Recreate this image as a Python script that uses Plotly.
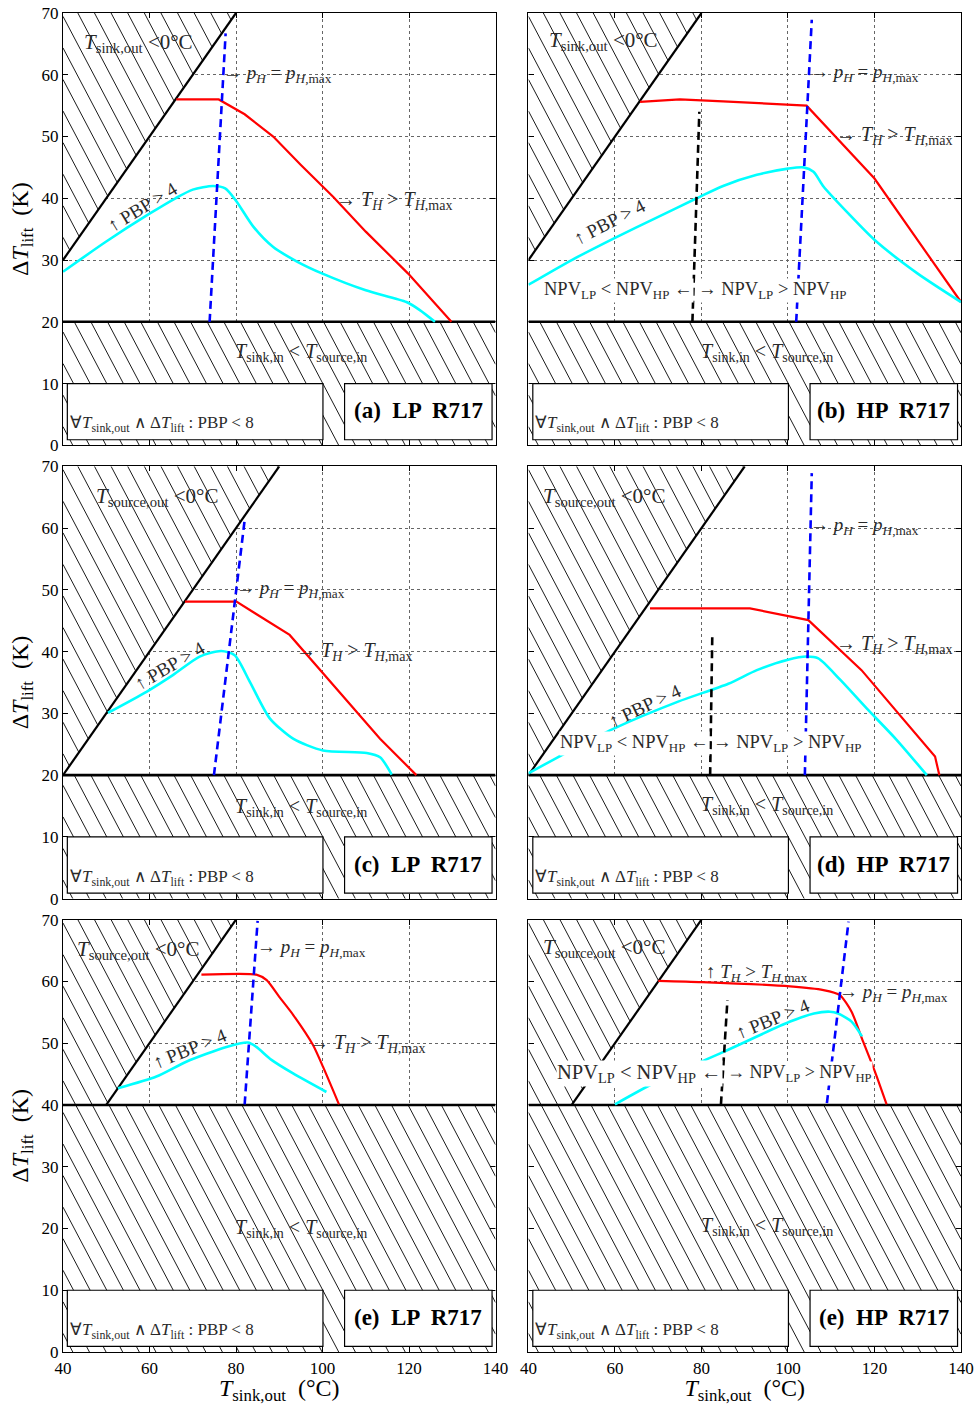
import math
import plotly.graph_objects as go
from plotly.subplots import make_subplots

# ---------------- data ----------------
# Panel (a) LP R717
A_RED_X = [66.2, 76.0, 82.0, 88.6, 95.0, 102.5, 110.0, 119.8, 129.8]
A_RED_Y = [56.0, 56.0, 53.6, 50.0, 45.4, 40.2, 34.6, 27.8, 20.0]
A_CYAN_X = [40, 50, 60, 66, 70, 74.7, 77.5, 80, 84, 88.6, 94, 100, 110, 119.4, 122.5, 126]
A_CYAN_Y = [28.1, 33.0, 37.5, 40.0, 41.4, 42.0, 41.6, 39.6, 35.4, 32.1, 29.8, 27.8, 25.1, 23.2, 21.9, 20.0]
A_BLUE_X = [73.9, 77.6]
A_BLUE_Y = [20.0, 66.7]
A_BOUND_X = [40, 80]
A_BOUND_Y = [30, 70]
A_FLOOR = 20

# Panel (b) HP R717
B_RED_X = [65.8, 75, 85, 95, 104.3, 120.0, 140]
B_RED_Y = [55.6, 56.0, 55.7, 55.3, 55.0, 43.2, 23.2]
B_CYAN_X = [40, 50, 60, 70, 78.9, 85, 92.8, 100, 103.6, 105.9, 108.2, 114, 120.1, 130, 140]
B_CYAN_Y = [26.0, 30.0, 33.6, 37.0, 40.0, 42.0, 43.8, 44.8, 45.0, 44.3, 41.9, 37.5, 33.2, 27.8, 23.2]
B_BLUE_X = [101.9, 105.5]
B_BLUE_Y = [20.0, 68.9]
B_BLACK_X = [77.9, 79.5]
B_BLACK_Y = [20.0, 54.0]
B_BOUND_X = [40, 80]
B_BOUND_Y = [30, 70]
B_FLOOR = 20

# Panel (c) LP R717
C_RED_X = [68.2, 80.1, 92.4, 100.9, 113.3, 121.7]
C_RED_Y = [48.1, 48.1, 42.7, 35.9, 25.9, 20.0]
C_CYAN_X = [50.4, 59.3, 65.4, 71.6, 76.6, 79.7, 83.2, 87.8, 93.2, 100.1, 110.2, 113.3, 116]
C_CYAN_Y = [30.1, 33.5, 36.2, 39.2, 40.1, 39.4, 35.1, 29.2, 25.9, 24.0, 23.6, 22.9, 20.1]
C_BLUE_X = [74.9, 82.0]
C_BLUE_Y = [20.0, 61.3]
C_BOUND_X = [40, 90]
C_BOUND_Y = [20, 70]
C_FLOOR = 20

# Panel (d) HP R717
D_RED_X = [68.1, 91.2, 104.7, 117.0, 134.0, 135.0]
D_RED_Y = [47.0, 47.0, 45.1, 37.0, 23.0, 20.0]
D_CYAN_X = [40, 50, 59.6, 74.6, 86.2, 92.8, 100, 104.3, 107, 112, 118.2, 125, 132.1]
D_CYAN_Y = [20.3, 24.1, 27.5, 31.9, 34.8, 37.0, 38.7, 39.2, 38.9, 35.5, 30.8, 25.8, 20.0]
D_BLUE_X = [103.9, 105.5]
D_BLUE_Y = [20.0, 68.9]
D_BLACK_X = [82.0, 82.5]
D_BLACK_Y = [20.0, 42.7]
D_BOUND_X = [40, 90]
D_BOUND_Y = [20, 70]
D_FLOOR = 20

# Panel (e) LP R717
E_RED_X = [72.0, 84.7, 87.1, 90.0, 93.2, 97.8, 100.1, 103.8]
E_RED_Y = [61.1, 61.1, 60.2, 57.5, 54.6, 49.7, 46.2, 40.1]
E_CYAN_X = [52.7, 61.6, 68.5, 77.8, 82.8, 84.7, 88.2, 93.2, 100.9]
E_CYAN_Y = [42.7, 44.6, 47.0, 49.4, 50.1, 49.4, 47.3, 45.1, 42.1]
E_BLUE_X = [82.0, 85.0]
E_BLUE_Y = [40.1, 69.8]
E_BOUND_X = [50, 80]
E_BOUND_Y = [40, 70]
E_FLOOR = 40

# Panel (e) HP R717
F_RED_X = [70.0, 80.1, 100.5, 108.2, 112.0, 114.7, 117.4, 120.1, 122.8]
F_RED_Y = [60.1, 59.9, 59.2, 58.6, 57.8, 55.1, 50.2, 45.4, 40.1]
F_CYAN_X = [60.0, 69.7, 85.1, 100.5, 106.0, 109.7, 111.6, 114.7, 117.1]
F_CYAN_Y = [40.1, 43.8, 48.6, 53.5, 54.8, 55.1, 54.8, 53.5, 51.1]
F_BLUE_X = [109.0, 114.0]
F_BLUE_Y = [40.3, 69.7]
F_BLACK_X = [84.5, 86.0]
F_BLACK_Y = [40.1, 57.0]
F_BOUND_X = [50, 80]
F_BOUND_Y = [40, 70]
F_FLOOR = 40

LABELS = ["(a)  LP  R717", "(b)  HP  R717", "(c)  LP  R717",
          "(d)  HP  R717", "(e)  LP  R717", "(e)  HP  R717"]

X_RANGE = [40, 140]
Y_RANGE = [0, 70]
X_TICKS = [40, 60, 80, 100, 120, 140]
Y_TICKS = [0, 10, 20, 30, 40, 50, 60, 70]

# ---------------- text ----------------
T_SINKOUT = "<i>T</i><sub>sink,out</sub> &lt;0°C"
T_SOURCEOUT = "<i>T</i><sub>source,out</sub> &lt;0°C"
PH = "→ <i>p<sub>H</sub></i> = <i>p</i><sub><i>H</i>,max</sub>"
TH = "→ <i>T<sub>H</sub></i> &gt; <i>T</i><sub><i>H</i>,max</sub>"
TH_UP = "↑ <i>T<sub>H</sub></i> &gt; <i>T</i><sub><i>H</i>,max</sub>"
PBP = "↑ PBP &gt; 4"
SINKIN = "<i>T</i><sub>sink,in</sub> &lt; <i>T</i><sub>source,in</sub>"
NPV_L = "NPV<sub>LP</sub> &lt; NPV<sub>HP</sub> ←"
NPV_R = "→ NPV<sub>LP</sub> &gt; NPV<sub>HP</sub>"
FORALL = "∀<i>T</i><sub>sink,out</sub> ∧ Δ<i>T</i><sub>lift</sub> : PBP &lt; 8"

FONT = "Liberation Serif"
TXT = "#2a2a2a"

panels = [
    dict(red=(A_RED_X, A_RED_Y), cyan=(A_CYAN_X, A_CYAN_Y), blue=(A_BLUE_X, A_BLUE_Y),
         black=None, bound=(A_BOUND_X, A_BOUND_Y), floor=A_FLOOR, spline_red=False,
         texts=[(T_SINKOUT, 57.5, 65.2, "center", 0, 21),
                (PH, 76.6, 60.2, "left", 0, 19),
                (TH, 102.6, 39.7, "left", 0, 20),
                (PBP, 58.5, 38.6, "center", -31, 19),
                (SINKIN, 95.1, 15.1, "center", 0, 20)],
         npv=None),
    dict(red=(B_RED_X, B_RED_Y), cyan=(B_CYAN_X, B_CYAN_Y), blue=(B_BLUE_X, B_BLUE_Y),
         black=(B_BLACK_X, B_BLACK_Y), bound=(B_BOUND_X, B_BOUND_Y), floor=B_FLOOR, spline_red=False,
         texts=[(T_SINKOUT, 57.3, 65.4, "center", 0, 21),
                (PH, 104.6, 60.3, "left", 0, 19),
                (TH, 110.7, 50.2, "left", 0, 20),
                (PBP, 58.9, 36.2, "center", -27, 19),
                (SINKIN, 95.1, 15.1, "center", 0, 20)],
         npv=(78.6, 25.1, 18.5, 18.5)),
    dict(red=(C_RED_X, C_RED_Y), cyan=(C_CYAN_X, C_CYAN_Y), blue=(C_BLUE_X, C_BLUE_Y),
         black=None, bound=(C_BOUND_X, C_BOUND_Y), floor=C_FLOOR, spline_red=False,
         texts=[(T_SOURCEOUT, 61.8, 65.1, "center", 0, 21),
                (PH, 79.6, 50.2, "left", 0, 19),
                (TH, 93.4, 40.0, "left", 0, 20),
                (PBP, 64.7, 37.8, "center", -30, 19),
                (SINKIN, 95.1, 14.8, "center", 0, 20)],
         npv=None),
    dict(red=(D_RED_X, D_RED_Y), cyan=(D_CYAN_X, D_CYAN_Y), blue=(D_BLUE_X, D_BLUE_Y),
         black=(D_BLACK_X, D_BLACK_Y), bound=(D_BOUND_X, D_BOUND_Y), floor=D_FLOOR, spline_red=False,
         texts=[(T_SOURCEOUT, 57.5, 65.1, "center", 0, 21),
                (PH, 104.6, 60.4, "left", 0, 19),
                (TH, 110.7, 41.1, "left", 0, 20),
                (PBP, 67.0, 31.3, "center", -25, 19),
                (SINKIN, 95.1, 15.1, "center", 0, 20)],
         npv=(82.2, 25.1, 18.5, 18.5)),
    dict(red=(E_RED_X, E_RED_Y), cyan=(E_CYAN_X, E_CYAN_Y), blue=(E_BLUE_X, E_BLUE_Y),
         black=None, bound=(E_BOUND_X, E_BOUND_Y), floor=E_FLOOR, spline_red=True,
         texts=[(T_SOURCEOUT, 57.4, 65.1, "center", 0, 21),
                (PH, 84.3, 65.4, "left", 0, 19),
                (TH, 96.5, 50.0, "left", 0, 20),
                (PBP, 69.3, 49.2, "center", -22, 19),
                (SINKIN, 95.1, 20.0, "center", 0, 20)],
         npv=None),
    dict(red=(F_RED_X, F_RED_Y), cyan=(F_CYAN_X, F_CYAN_Y), blue=(F_BLUE_X, F_BLUE_Y),
         black=(F_BLACK_X, F_BLACK_Y), bound=(F_BOUND_X, F_BOUND_Y), floor=F_FLOOR, spline_red=True,
         texts=[(T_SOURCEOUT, 57.5, 65.4, "center", 0, 21),
                (TH_UP, 80.6, 61.3, "left", 0, 19),
                (PH, 111.3, 58.2, "left", 0, 19),
                (PBP, 96.6, 54.0, "center", -22, 19),
                (SINKIN, 95.1, 20.3, "center", 0, 20)],
         npv=(85.3, 45.1, 20.5, 18)),
]

# ---------------- figure ----------------
fig = make_subplots(rows=3, cols=2, horizontal_spacing=0.0367, vertical_spacing=0.0157)

KX = 432.0 / 100.0   # px per x unit
KY = 432.0 / 70.0    # px per y unit
SLOPE = 1.9          # hatch steepness (px down per px right)
SPACING = 16.6       # hatch horizontal spacing (px)


def hatch(poly):
    fs = [KX * x + KY * y / SLOPE for x, y in poly]
    c = math.ceil(min(fs) / SPACING) * SPACING
    xs, ys = [], []
    n = len(poly)
    while c < max(fs):
        pts = []
        for i in range(n):
            (x1, y1), (x2, y2) = poly[i], poly[(i + 1) % n]
            f1, f2 = fs[i], fs[(i + 1) % n]
            if f1 != f2 and (f1 - c) * (f2 - c) <= 0:
                t = (c - f1) / (f2 - f1)
                pts.append((x1 + t * (x2 - x1), y1 + t * (y2 - y1)))
        if len(pts) >= 2:
            pts.sort()
            xs += [pts[0][0], pts[-1][0], None]
            ys += [pts[0][1], pts[-1][1], None]
        c += SPACING
    return xs, ys


for k, p in enumerate(panels):
    row, col = k // 2 + 1, k % 2 + 1
    idx = "" if k == 0 else str(k + 1)
    bx, by = p["bound"]
    fl = p["floor"]
    xmin, xmax = X_RANGE
    ymin, ymax = Y_RANGE
    tri = [(bx[0], by[0]), (bx[1], by[1]), (xmin, ymax)]
    if bx[0] > xmin:
        tri.append((xmin, fl))
    rect = [(xmin, ymin), (xmax, ymin), (xmax, fl), (xmin, fl)]
    for poly in (tri, rect):
        fig.add_trace(go.Scatter(x=[q[0] for q in poly] + [poly[0][0]],
                                 y=[q[1] for q in poly] + [poly[0][1]],
                                 mode="lines", fill="toself", fillcolor="white",
                                 line=dict(width=0), hoverinfo="skip", showlegend=False),
                      row=row, col=col)
        hx, hy = hatch(poly)
        fig.add_trace(go.Scatter(x=hx, y=hy, mode="lines", line=dict(color="black", width=0.9),
                                 hoverinfo="skip", showlegend=False), row=row, col=col)
    # boundaries
    fig.add_trace(go.Scatter(x=bx, y=by, mode="lines", line=dict(color="black", width=2.2),
                             showlegend=False), row=row, col=col)
    fig.add_trace(go.Scatter(x=[xmin, xmax], y=[fl, fl], mode="lines",
                             line=dict(color="black", width=2.6), showlegend=False), row=row, col=col)
    # curves
    rx, ry = p["red"]
    fig.add_trace(go.Scatter(x=rx, y=ry, mode="lines",
                             line=dict(color="#ff0000", width=2.2,
                                       shape="spline" if p["spline_red"] else "linear",
                                       smoothing=0.6),
                             showlegend=False), row=row, col=col)
    cx, cy = p["cyan"]
    fig.add_trace(go.Scatter(x=cx, y=cy, mode="lines",
                             line=dict(color="#00ffff", width=2.6, shape="spline", smoothing=0.7),
                             showlegend=False), row=row, col=col)
    ux, uy = p["blue"]
    fig.add_trace(go.Scatter(x=ux, y=uy, mode="lines",
                             line=dict(color="#0000ff", width=2.6, dash="8px,5px"),
                             showlegend=False), row=row, col=col)
    if p["black"] is not None:
        kx_, ky_ = p["black"]
        fig.add_trace(go.Scatter(x=kx_, y=ky_, mode="lines",
                                 line=dict(color="black", width=2.6, dash="8px,5px"),
                                 showlegend=False), row=row, col=col)

    xr, yr = "x" + idx, "y" + idx
    # boxes
    fig.add_shape(type="rect", xref=xr, yref=yr, x0=41.0, x1=100.1, y0=0.9, y1=10.0,
                  fillcolor="white", line=dict(color="black", width=1.2), layer="above")
    fig.add_shape(type="rect", xref=xr, yref=yr, x0=105.1, x1=139.2, y0=0.9, y1=10.0,
                  fillcolor="white", line=dict(color="black", width=1.2), layer="above")
    fig.add_annotation(xref=xr, yref=yr, x=41.1, y=3.4, text=FORALL, showarrow=False,
                       xanchor="left", yanchor="middle", font=dict(size=17, color=TXT))
    fig.add_annotation(xref=xr, yref=yr, x=122.15, y=5.6, text="<b>" + LABELS[k] + "</b>",
                       showarrow=False, xanchor="center", yanchor="middle",
                       font=dict(size=23, color="black"))
    for (t, x, y, anc, ang, sz) in p["texts"]:
        fig.add_annotation(xref=xr, yref=yr, x=x, y=y, text=t, showarrow=False,
                           xanchor=anc, yanchor="middle", textangle=ang,
                           font=dict(size=sz, color=TXT))
    if p["npv"] is not None:
        nx, ny, s1, s2 = p["npv"]
        fig.add_annotation(xref=xr, yref=yr, x=nx - 0.3, y=ny, text=NPV_L, showarrow=False,
                           xanchor="right", yanchor="middle", bgcolor="white", borderpad=0,
                           font=dict(size=s1, color=TXT))
        fig.add_annotation(xref=xr, yref=yr, x=nx + 0.3, y=ny, text=NPV_R, showarrow=False,
                           xanchor="left", yanchor="middle", bgcolor="white", borderpad=0,
                           font=dict(size=s2, color=TXT))

    fig.update_xaxes(range=X_RANGE, tickvals=X_TICKS, showgrid=True, griddash="dot",
                     gridcolor="#666", gridwidth=1, zeroline=False, showline=True,
                     linecolor="black", linewidth=1.3, mirror="ticks", ticks="inside",
                     ticklen=5, tickcolor="black", showticklabels=(row == 3),
                     tickfont=dict(size=17), automargin=False, row=row, col=col)
    fig.update_yaxes(range=Y_RANGE, tickvals=Y_TICKS, showgrid=True, griddash="dot",
                     gridcolor="#666", gridwidth=1, zeroline=False, showline=True,
                     linecolor="black", linewidth=1.3, mirror="ticks", ticks="inside",
                     ticklen=5, tickcolor="black", showticklabels=(col == 1),
                     tickfont=dict(size=17), automargin=False, row=row, col=col)
    if col == 1:
        fig.update_yaxes(title=dict(text="Δ<i>T</i><sub>lift</sub>  (K)", font=dict(size=24),
                                    standoff=6), row=row, col=col)
    if row == 3:
        fig.update_xaxes(title=dict(text="<i>T</i><sub>sink,out</sub>  (°C)", font=dict(size=24),
                                    standoff=2), row=row, col=col)

fig.update_layout(width=976, height=1405, margin=dict(l=63, r=15, t=13, b=53),
                  paper_bgcolor="white", plot_bgcolor="white",
                  font=dict(family=FONT, color="black"), showlegend=False)

fig.write_html("out.html", config={"displayModeBar": False},
               post_script="document.body.style.margin='0px';document.body.style.overflow='hidden';")
